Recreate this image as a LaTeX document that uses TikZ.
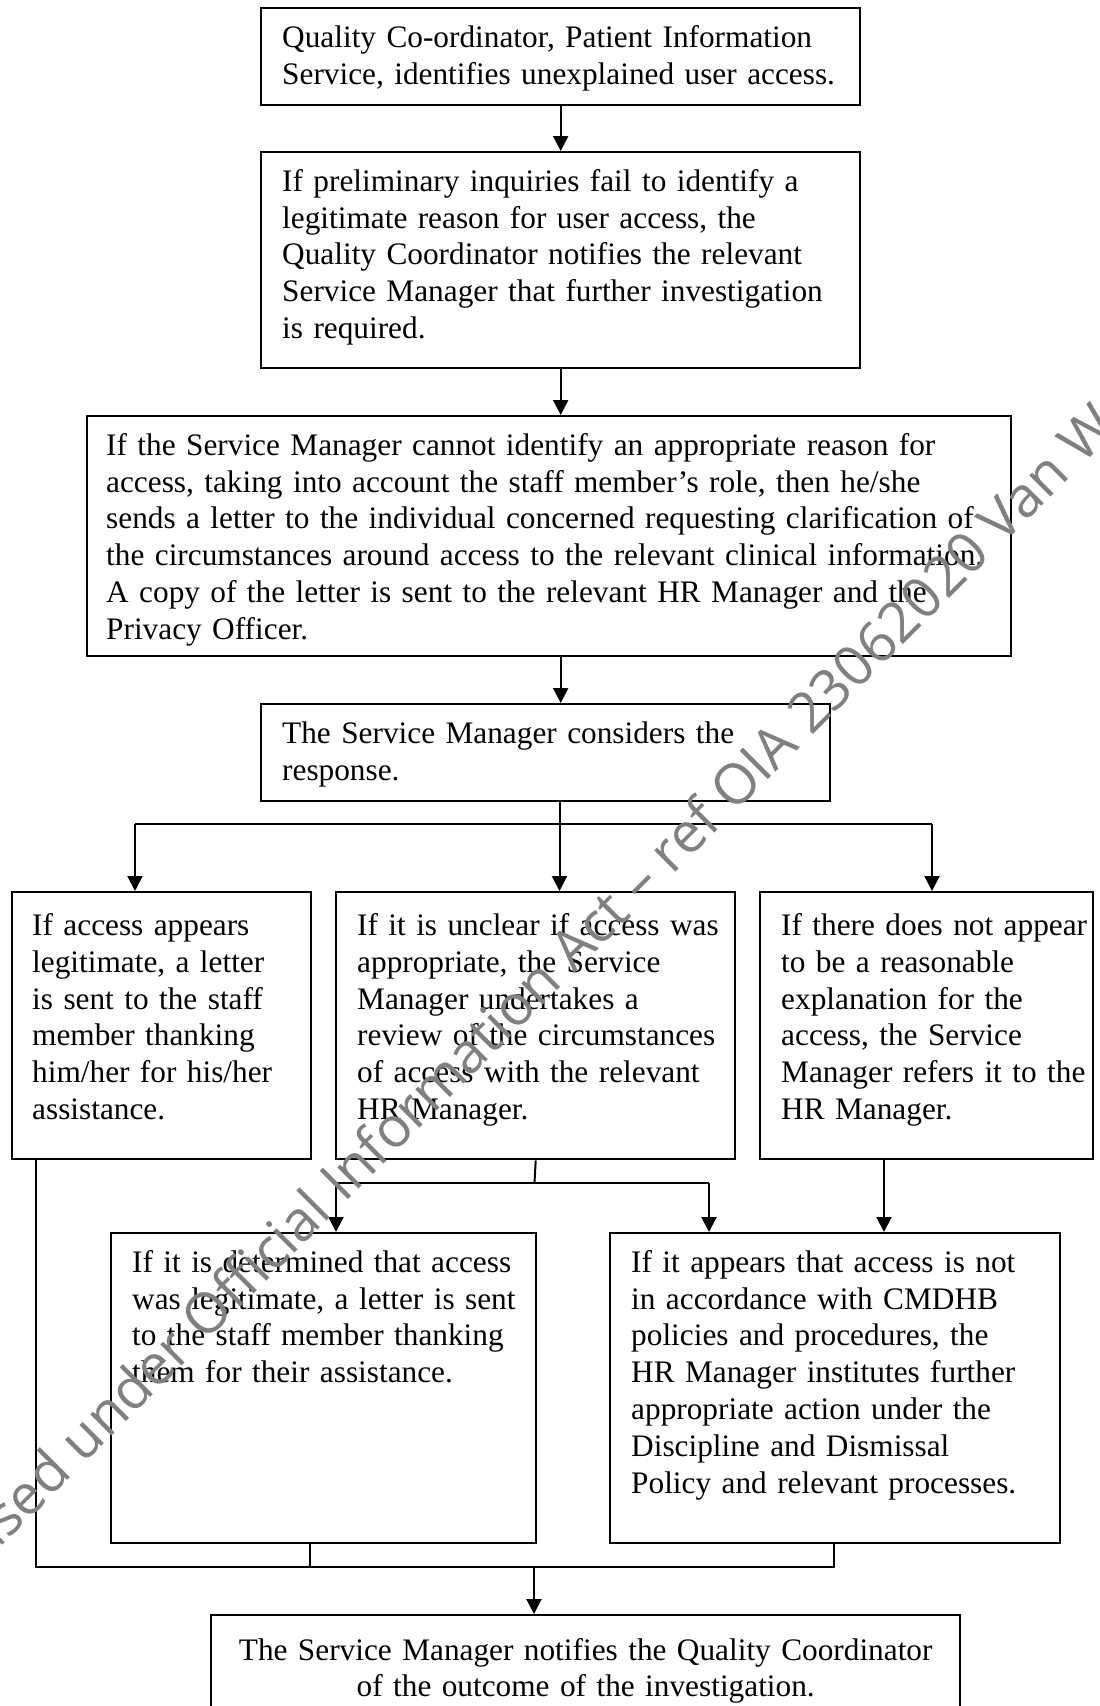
\documentclass[tikz,border=0pt]{standalone}
\usepackage{fontspec}
\setmainfont{Liberation Serif}
\newfontfamily\wmfont{Open Sans}
\usetikzlibrary{arrows.meta,calc}
\begin{document}
\begin{tikzpicture}[x=1pt,y=-1pt,
  box/.style={draw,line width=2.4pt,anchor=north west,inner sep=0pt},
  txt/.style={anchor=north west,inner sep=0pt,align=left,text width=#1,
    font=\fontsize{31.3}{36.8}\selectfont},
  txt/.default=640pt,
  link/.style={line width=2pt},
  arr/.style={line width=2pt,-{Triangle[length=15pt,width=15pt]}},
  wm/.style={inner sep=0pt,text=black!50,font=\wmfont\fontsize{56}{60}\selectfont}]
\useasboundingbox (0,0) rectangle (1100,1706);
\clip (0,0) rectangle (1100,1706);
\fill[white] (0,0) rectangle (1100,1706);

% boxes
\node[box,minimum width=599pt,minimum height=97pt]  (b1) at (260,7) {};
\node[box,minimum width=599pt,minimum height=216pt] (b2) at (260,151) {};
\node[box,minimum width=924pt,minimum height=240pt] (b3) at (86,415) {};
\node[box,minimum width=569pt,minimum height=97pt]  (b4) at (260,703) {};
\node[box,minimum width=299pt,minimum height=267pt] (L)  at (11,891) {};
\node[box,minimum width=399pt,minimum height=267pt] (M)  at (335,891) {};
\node[box,minimum width=333pt,minimum height=267pt] (R)  at (759,891) {};
\node[box,minimum width=425pt,minimum height=310pt] (LL) at (110,1232) {};
\node[box,minimum width=450pt,minimum height=310pt] (LR) at (609,1232) {};
\node[box,minimum width=749pt,minimum height=100pt] (F)  at (210,1614) {};

% box texts (first baseline about 40 below the top edge, 22 in from the left)
\node[txt] (t1) at ($(b1.north west)+(22,14.24)$) {\strut Quality Co-ordinator, Patient Information\\
Service, identifies unexplained user access.};
\node[txt] (t2) at ($(b2.north west)+(22,14.24)$) {\strut If preliminary inquiries fail to identify a\\
legitimate reason for user access, the\\
Quality Coordinator notifies the relevant\\
Service Manager that further investigation\\
is required.};
\node[txt=960pt] (t3) at ($(b3.north west)+(20,14.24)$) {\strut If the Service Manager cannot identify an appropriate reason for\\
access, taking into account the staff member’s role, then he/she\\
sends a letter to the individual concerned requesting clarification of\\
the circumstances around access to the relevant clinical information.\\
A copy of the letter is sent to the relevant HR Manager and the\\
Privacy Officer.};
\node[txt] (t4) at ($(b4.north west)+(22,14.24)$) {\strut The Service Manager considers the\\
response.};
\node[txt] (tL) at ($(L.north west)+(21,18.6)$) {\strut If access appears\\
legitimate, a letter\\
is sent to the staff\\
member thanking\\
him/her for his/her\\
assistance.};
\node[txt] (tM) at ($(M.north west)+(22,18.6)$) {\strut If it is unclear if access was\\
appropriate, the Service\\
Manager undertakes a\\
review of the circumstances\\
of access with the relevant\\
HR Manager.};
\node[txt] (tR) at ($(R.north west)+(22,18.6)$) {\strut If there does not appear\\
to be a reasonable\\
explanation for the\\
access, the Service\\
Manager refers it to the\\
HR Manager.};
\node[txt] (tLL) at ($(LL.north west)+(22,14.24)$) {\strut If it is determined that access\\
was legitimate, a letter is sent\\
to the staff member thanking\\
them for their assistance.};
\node[txt] (tLR) at ($(LR.north west)+(22,14.24)$) {\strut If it appears that access is not\\
in accordance with CMDHB\\
policies and procedures, the\\
HR Manager institutes further\\
appropriate action under the\\
Discipline and Dismissal\\
Policy and relevant processes.};
\node[txt=749pt,anchor=north,align=center] (tF) at ($(F.north)+(0,20.2)$) {\strut The Service Manager notifies the Quality Coordinator\\
of the outcome of the investigation.};

% main column
\draw[arr] (b1.south) -- (b2.north);
\draw[arr] (b2.south) -- (b2.south |- b3.north);
\draw[arr] (b2.south |- b3.south) -- (b2.south |- b4.north);

% three-way split after the response
\coordinate (split) at (559.5,824);
\coordinate (jl) at (135,824);
\coordinate (jr) at (932,824);
\draw[link] (b4.south -| split) -- (split);
\draw[link] (jl) -- (jr);
\draw[arr] (jl) -- (jl |- L.north);
\draw[arr] (split) -- (split |- M.north);
\draw[arr] (jr) -- (jr |- R.north);

% review outcome split
\coordinate (mj) at (534.5,1183);
\coordinate (ml) at (336,1183);
\coordinate (mr) at (709,1183);
\draw[link] (M.south) -- (mj);
\draw[link] (ml) -- (mr);
\draw[arr] (ml) -- (ml |- LL.north);
\draw[arr] (mr) -- (mr |- LR.north);
\coordinate (rj) at (884,1158);
\draw[arr] (rj) -- (rj |- LR.north);

% merge into the final notification
\coordinate (bl) at (36,1567);
\coordinate (br) at (834,1567);
\coordinate (llj) at (310,1567);
\coordinate (fj) at (534,1567);
\draw[link] (bl |- L.south) -- (bl) -- (br) -- (br |- LR.south);
\draw[link] (llj |- LL.south) -- (llj);
\draw[arr] (fj) -- (fj |- F.north);

% release stamp across the page
\node[wm,rotate=45,anchor=base west] (stamp) at (8,1540)
  {\llap{Relea}sed under Official Information Act – ref OIA 23062020 Van We};
\end{tikzpicture}
\end{document}
